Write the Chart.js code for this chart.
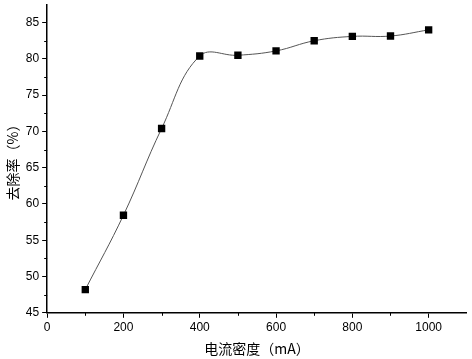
<!DOCTYPE html>
<html lang="zh">
<head>
    <meta charset="UTF-8">
    <title>去除率</title>
    <style>
        html, body { margin: 0; padding: 0; background: #fff; }
        #wrap { width: 472px; height: 359px; }
    </style>
    <script src="https://cdn.jsdelivr.net/npm/chart.js"></script>
</head>
<body>
    <div id="wrap"><canvas id="chart"></canvas></div>
    <script>
        // 电流密度 (mA) 与 去除率 (%)
        const currents = [100, 200, 300, 400, 500, 600, 700, 800, 900, 1000];
        const removal = [48.2, 58.45, 70.4, 80.4, 80.5, 81.1, 82.5, 83.1, 83.15, 84.0];
        const xMajor = [0, 200, 400, 600, 800, 1000];
        const xMinor = [100, 300, 500, 700, 900];
        const yMajor = [45, 50, 55, 60, 65, 70, 75, 80, 85];
        const yMinor = [47.5, 52.5, 57.5, 62.5, 67.5, 72.5, 77.5, 82.5, 87.5];

        const tickFont = { family: '"Liberation Sans", Arial, sans-serif', size: 12 };
        const titleFont = { family: '"Noto Sans CJK SC", sans-serif', size: 14 };

        // 次刻度
        const minorTicks = {
            id: 'minorTicks',
            afterDraw(c) {
                const ctx = c.ctx, xs = c.scales.x, ys = c.scales.y;
                ctx.save();
                ctx.strokeStyle = '#000';
                ctx.lineWidth = 1;
                ctx.beginPath();
                xMinor.forEach(v => {
                    const px = Math.round(xs.getPixelForValue(v)) + 0.5;
                    ctx.moveTo(px, xs.top);
                    ctx.lineTo(px, xs.top + 3);
                });
                yMinor.forEach(v => {
                    if (v > ys.max) return;
                    const py = Math.round(ys.getPixelForValue(v)) + 0.5;
                    ctx.moveTo(ys.right, py);
                    ctx.lineTo(ys.right - 3, py);
                });
                ctx.stroke();
                ctx.restore();
            }
        };

        new Chart(document.getElementById('chart'), {
            type: 'line',
            data: {
                datasets: [{
                    data: currents.map((x, i) => ({ x: x, y: removal[i] })),
                    borderColor: '#555',
                    borderWidth: 1,
                    tension: 0.4,
                    pointStyle: 'rect',
                    pointRadius: 5.2,
                    pointBackgroundColor: '#000',
                    pointBorderColor: '#000',
                    pointBorderWidth: 0
                }]
            },
            options: {
                responsive: true,
                maintainAspectRatio: false,
                animation: false,
                layout: { padding: { top: 0, right: 2, left: 4, bottom: 2 } },
                plugins: { legend: { display: false }, tooltip: { enabled: false } },
                scales: {
                    x: {
                        type: 'linear',
                        min: 0,
                        max: 1100,
                        afterBuildTicks: s => { s.ticks = xMajor.map(v => ({ value: v })); },
                        ticks: { font: tickFont, color: '#000', padding: 3, maxRotation: 0, callback: v => String(v) },
                        grid: { drawOnChartArea: false, drawTicks: true, tickLength: 5, color: '#000', lineWidth: 1 },
                        border: { display: true, color: '#000', width: 1.5 },
                        title: { display: true, text: '电流密度（mA）', font: titleFont, color: '#000', padding: { top: 2, bottom: 0 } }
                    },
                    y: {
                        type: 'linear',
                        min: 45,
                        max: 87.4,
                        afterBuildTicks: s => { s.ticks = yMajor.map(v => ({ value: v })); },
                        afterFit: s => { s.paddingTop = 0; },
                        ticks: { font: tickFont, color: '#000', padding: 3, callback: v => String(v) },
                        grid: { drawOnChartArea: false, drawTicks: true, tickLength: 5, color: '#000', lineWidth: 1 },
                        border: { display: true, color: '#000', width: 1.5 },
                        title: { display: true, text: '去除率（%）', font: titleFont, color: '#000', padding: { top: 0, bottom: 2 } }
                    }
                }
            },
            plugins: [minorTicks]
        });
    </script>
</body>
</html>
